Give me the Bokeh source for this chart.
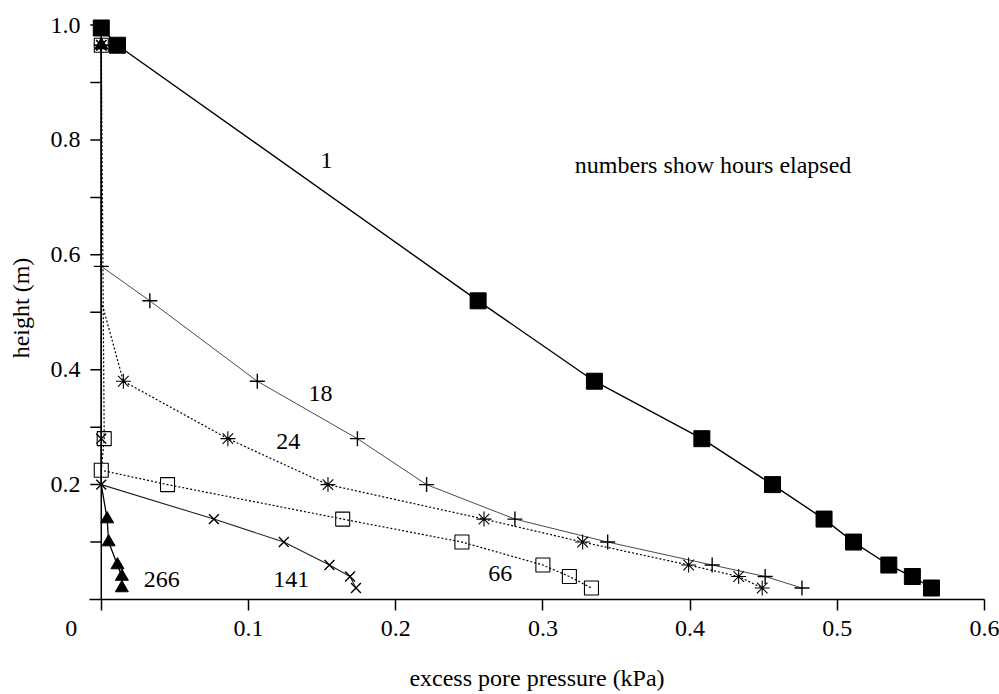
from bokeh.plotting import figure
from bokeh.models import Range1d, FixedTicker
from bokeh.core.properties import value
from bokeh.embed import file_html
from bokeh.resources import INLINE

# Excess pore pressure profiles (kPa) against height (m), one per elapsed time.
# The *_marked lists say which readings carry a marker symbol.
heights_1 = [0.995, 0.965, 0.52, 0.38, 0.28, 0.20, 0.14, 0.10, 0.06, 0.04, 0.02]
pressure_1 = [0.0, 0.011, 0.256, 0.335, 0.408, 0.456, 0.491, 0.511, 0.535, 0.551, 0.564]

heights_18 = [0.965, 0.58, 0.52, 0.38, 0.28, 0.20, 0.14, 0.10, 0.06, 0.04, 0.02]
pressure_18 = [0.0, 0.0, 0.033, 0.106, 0.174, 0.221, 0.281, 0.344, 0.415, 0.451, 0.476]

heights_24 = [0.965, 0.52, 0.38, 0.28, 0.20, 0.14, 0.10, 0.06, 0.04, 0.02]
pressure_24 = [0.0, 0.0, 0.015, 0.086, 0.154, 0.260, 0.327, 0.399, 0.433, 0.449]
marked_24 = [True, False, True, True, True, True, True, True, True, True]

heights_66 = [0.965, 0.28, 0.225, 0.20, 0.14, 0.10, 0.06, 0.04, 0.02]
pressure_66 = [0.0, 0.002, 0.0, 0.045, 0.164, 0.245, 0.300, 0.318, 0.333]

heights_141 = [0.965, 0.28, 0.20, 0.14, 0.10, 0.06, 0.04, 0.02]
pressure_141 = [0.0, 0.0, 0.0, 0.0765, 0.124, 0.155, 0.169, 0.173]

heights_266 = [0.965, 0.20, 0.14, 0.10, 0.06, 0.04, 0.02]
pressure_266 = [0.0, 0.0, 0.004, 0.005, 0.011, 0.014, 0.014]
marked_266 = [True, False, True, True, True, True, True]

# Hour labels placed beside each profile
hour_text = ["1", "18", "24", "66", "141", "266"]
hour_x = [0.153, 0.149, 0.127, 0.271, 0.129, 0.041]
hour_y = [0.765, 0.359, 0.275, 0.046, 0.034, 0.034]

x_ticks = [0.0, 0.1, 0.2, 0.3, 0.4, 0.5, 0.6]
y_ticks = [0.2, 0.4, 0.6, 0.8, 1.0]
y_minor = [0.1, 0.3, 0.5, 0.7, 0.9]

FONT = "Liberation Serif"

W, H = 999, 694
LEFT, RIGHT, TOP, BOTTOM = 89, 15, 16, 95
X0, X1 = -0.008, 0.6
Y0, Y1 = 0.0, 1.015
TICK_PX = 11


def pick(vals, mask):
    return [v for v, m in zip(vals, mask) if m]


p = figure(width=W, height=H, output_backend="svg", toolbar_location=None,
           x_range=Range1d(X0, X1), y_range=Range1d(Y0, Y1),
           min_border_left=LEFT, min_border_right=RIGHT, min_border_top=TOP,
           min_border_bottom=BOTTOM)
p.outline_line_color = None
p.xgrid.visible = False
p.ygrid.visible = False
p.background_fill_color = "white"
p.border_fill_color = "white"

# bottom axis
xa = p.xaxis[0]
xa.ticker = FixedTicker(ticks=x_ticks, minor_ticks=[])
# the zero label sits left of the origin, padded with em spaces
xa.major_label_overrides = {t: ("0\u2003\u2003\u2002" if t == 0 else f"{t:g}")
                            for t in x_ticks}
xa.axis_line_color = "black"
xa.axis_line_width = 1.5
xa.major_tick_line_color = "black"
xa.major_tick_line_width = 1.5
xa.major_tick_in = 0
xa.major_tick_out = TICK_PX
xa.minor_tick_line_color = None
xa.major_label_standoff = 4
xa.axis_label = "excess pore pressure (kPa)"
xa.axis_label_standoff = 21

# left axis: labels only; its line and ticks are drawn at x = 0 below
ya = p.yaxis[0]
ya.ticker = FixedTicker(ticks=y_ticks, minor_ticks=y_minor)
ya.major_label_overrides = {t: f"{t:.1f}" for t in y_ticks}
ya.axis_line_color = None
ya.major_tick_line_color = None
ya.minor_tick_line_color = None
ya.major_tick_in = 0
ya.major_tick_out = 0
ya.minor_tick_in = 0
ya.minor_tick_out = 0
ya.major_label_standoff = 9
ya.axis_label = "height (m)"
ya.axis_label_standoff = 14

for ax in (xa, ya):
    ax.major_label_text_font = FONT
    ax.major_label_text_font_size = "24px"
    ax.major_label_text_color = "black"
    ax.axis_label_text_font = FONT
    ax.axis_label_text_font_size = "24px"
    ax.axis_label_text_font_style = "normal"
    ax.axis_label_text_color = "black"

# vertical axis line and outward ticks at zero pressure
px_per_unit = (W - LEFT - RIGHT) / (X1 - X0)
tick_len = TICK_PX / px_per_unit
all_y_ticks = sorted(y_ticks + y_minor)
p.segment(x0=[0.0], y0=[Y0], x1=[0.0], y1=[max(y_ticks)],
          line_color="black", line_width=1.5)
p.segment(x0=[-tick_len] * len(all_y_ticks), y0=all_y_ticks,
          x1=[0.0] * len(all_y_ticks), y1=all_y_ticks,
          line_color="black", line_width=1.5)

# profiles
p.line(pressure_1, heights_1, line_color="black", line_width=1.4)
p.scatter(pressure_1, heights_1, marker="square", size=16,
          fill_color="black", line_color="black")

p.line(pressure_18, heights_18, line_color="#4a4a4a", line_width=1)
p.scatter(pressure_18, heights_18, marker="cross", size=15,
          line_color="black", line_width=1.4)

p.line(pressure_24, heights_24, line_color="black", line_width=1.2,
       line_dash="2 2")
p.scatter(pick(pressure_24, marked_24), pick(heights_24, marked_24),
          marker="asterisk", size=15, line_color="black", line_width=1.1)

p.line(pressure_66, heights_66, line_color="black", line_width=1.2,
       line_dash="2 2")
p.scatter(pressure_66, heights_66, marker="square", size=14,
          fill_color=None, line_color="black", line_width=1.1)

p.line(pressure_141, heights_141, line_color="#222222", line_width=1.1)
p.scatter(pressure_141, heights_141, marker="x", size=14,
          line_color="black", line_width=1.4)

p.line(pressure_266, heights_266, line_color="black", line_width=1.3)
p.scatter(pick(pressure_266, marked_266), pick(heights_266, marked_266),
          marker="triangle", size=13, fill_color="black", line_color="black")

# annotations
p.text(hour_x, hour_y, text=hour_text, text_font=value(FONT),
       text_font_size="24px", text_align="center", text_baseline="middle",
       text_color="black")
p.text([0.4156], [0.756], text=["numbers show hours elapsed"],
       text_font=value(FONT), text_font_size="24px", text_align="center",
       text_baseline="middle", text_color="black")

open("out.html", "w").write(file_html(p, INLINE))
